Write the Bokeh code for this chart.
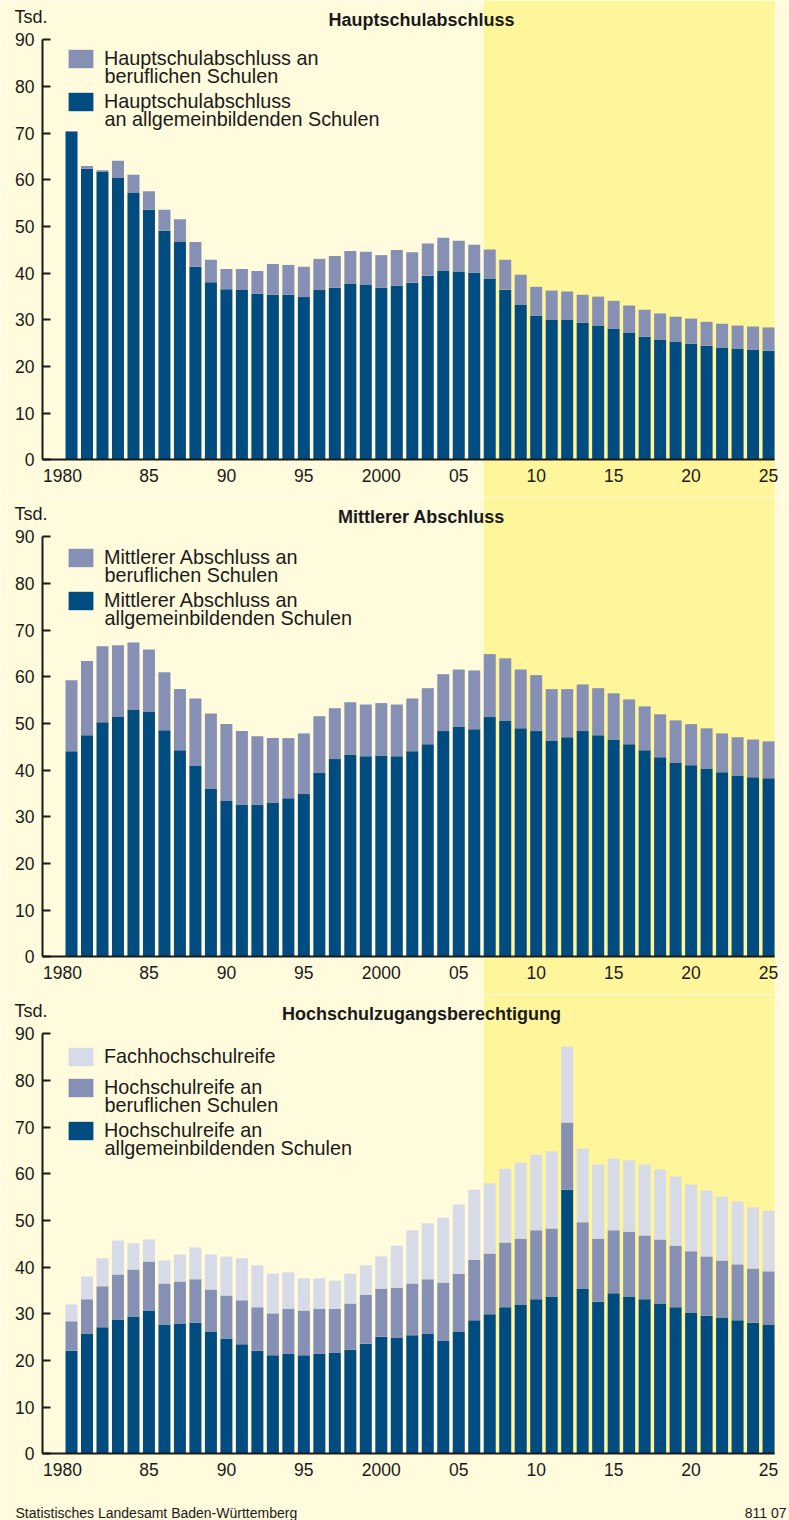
from bokeh.plotting import figure
from bokeh.models import (ColumnDataSource, FixedTicker, BoxAnnotation, Label,
                          Legend, LegendItem, Range1d)
from bokeh.layouts import column
from bokeh.embed import file_html
from bokeh.resources import INLINE

# ---------------- data (Tsd.) ----------------
years = list(range(1980, 2026))

haupt_allg = [70.3, 62.4, 61.7, 60.4, 57.2, 53.6, 49.1, 46.7, 41.4, 38.1,
              36.6, 36.4, 35.6, 35.4, 35.4, 34.9, 36.4, 36.9, 37.7, 37.5,
              36.9, 37.3, 38.0, 39.5, 40.6, 40.4, 40.1, 38.9, 36.5, 33.3,
              30.9, 30.1, 30.1, 29.4, 28.8, 28.1, 27.3, 26.4, 25.8, 25.4,
              24.9, 24.5, 24.1, 23.9, 23.6, 23.4]
haupt_beruf = [0.2, 0.6, 0.4, 3.7, 3.9, 4.0, 4.5, 4.9, 5.3, 4.8,
               4.3, 4.5, 4.9, 6.6, 6.4, 6.5, 6.7, 6.8, 7.1, 7.1,
               7.0, 7.7, 6.5, 6.9, 7.0, 6.6, 6.0, 6.2, 6.4, 6.4,
               6.2, 6.2, 6.0, 6.0, 6.2, 6.0, 5.8, 5.8, 5.6, 5.3,
               5.4, 5.1, 5.1, 4.9, 5.0, 5.0]

mittl_allg = [44.1, 47.5, 50.3, 51.4, 52.9, 52.6, 48.6, 44.3, 40.9, 36.1,
              33.4, 32.7, 32.7, 33.1, 34.0, 34.9, 39.4, 42.4, 43.4, 43.0,
              43.2, 43.0, 44.1, 45.6, 48.4, 49.4, 48.8, 51.4, 50.7, 49.0,
              48.4, 46.4, 47.1, 48.4, 47.5, 46.6, 45.6, 44.3, 42.8, 41.7,
              41.1, 40.4, 39.6, 38.9, 38.5, 38.3]
mittl_beruf = [15.2, 15.9, 16.3, 15.4, 14.5, 13.3, 12.4, 13.1, 14.5, 16.1,
               16.5, 15.7, 14.6, 13.8, 12.9, 13.0, 12.2, 10.9, 11.2, 11.1,
               11.2, 11.1, 11.3, 12.0, 12.2, 12.2, 12.6, 13.5, 13.3, 12.6,
               12.0, 11.0, 10.3, 10.0, 10.1, 9.9, 9.6, 9.4, 9.2, 9.0,
               8.8, 8.6, 8.3, 8.2, 8.1, 7.9]

hr_allg = [22.1, 25.8, 27.1, 28.8, 29.4, 30.7, 27.7, 27.9, 28.1, 26.2,
           24.7, 23.5, 22.1, 21.1, 21.4, 21.1, 21.4, 21.6, 22.3, 23.6,
           25.1, 24.9, 25.4, 25.8, 24.3, 26.2, 28.6, 29.9, 31.4, 32.0,
           33.1, 33.7, 56.6, 35.4, 32.6, 34.4, 33.7, 33.1, 32.2, 31.4,
           30.3, 29.6, 29.2, 28.6, 28.1, 27.7]
hr_beruf = [6.3, 7.3, 8.8, 9.6, 10.1, 10.5, 8.8, 9.0, 9.3, 9.0,
            9.2, 9.4, 9.3, 9.0, 9.7, 9.6, 9.7, 9.5, 9.9, 10.5,
            10.3, 10.7, 11.1, 11.6, 12.4, 12.4, 13.0, 13.0, 13.9, 14.1,
            14.8, 14.6, 14.4, 14.2, 13.5, 13.5, 13.9, 13.7, 13.7, 13.2,
            13.1, 12.7, 12.2, 12.0, 11.6, 11.4]
fhr = [3.6, 4.9, 6.0, 7.3, 5.6, 4.7, 4.9, 5.8, 6.8, 7.5,
       8.4, 9.0, 9.0, 8.5, 7.8, 6.9, 6.5, 6.0, 6.4, 6.3,
       6.9, 9.0, 11.4, 12.0, 13.9, 14.8, 15.0, 15.0, 15.8, 16.3,
       16.2, 16.5, 16.3, 15.8, 15.9, 15.4, 15.3, 15.2, 15.0, 14.8,
       14.3, 14.1, 13.7, 13.5, 13.1, 13.0]

forecast_years = (2007, 2025)
x_tick_values = [1979.42, 1985, 1990, 1995, 2000, 2005, 2010, 2015, 2020, 2025]
x_tick_labels = ["1980", "85", "90", "95", "2000", "05", "10", "15", "20", "25"]
y_ticks = [0, 10, 20, 30, 40, 50, 60, 70, 80, 90]

# ---------------- style ----------------
DARK = "#004B80"
MED = "#8590B4"
LIGHT = "#D7DAE7"
BG = "#FFFBDC"
BAND = "#FFF59B"
INK = "#1A1A1A"
FONT = "Liberation Sans"
LEG_SIZE = "19.8px"
BAR_W = 0.775
X0, X1 = 1975.416, 2026.352
Y_AXIS_AT = 1978.128
WIDTH = 789


def make_panel(title, stackers, data, colors, labels, height, y_range, legend_tops,
               band_bottom=None, footer=False):
    src = ColumnDataSource(dict(year=years, **dict(zip(stackers, data))))
    p = figure(width=WIDTH, height=height, x_range=Range1d(X0, X1),
               y_range=Range1d(*y_range), output_backend="svg",
               toolbar_location=None, min_border=0, min_border_left=0,
               min_border_right=0, min_border_top=0, min_border_bottom=0,
               background_fill_color=BG, border_fill_color=BG,
               outline_line_color=None)
    p.grid.visible = False

    band = BoxAnnotation(left=forecast_years[0] - BAR_W / 2,
                         right=forecast_years[1] + BAR_W / 2,
                         fill_color=BAND, fill_alpha=1, line_color=None, level="underlay")
    if band_bottom is not None:
        band.bottom = band_bottom
    p.add_layout(band)

    rs = p.vbar_stack(stackers, x="year", width=BAR_W, color=colors, source=src,
                      line_color=None)

    # x axis drawn at y = 0
    xa = p.xaxis[0]
    xa.fixed_location = 0
    xa.bounds = (Y_AXIS_AT, forecast_years[1] + BAR_W / 2)
    xa.ticker = FixedTicker(ticks=x_tick_values)
    xa.major_label_overrides = dict(zip(x_tick_values, x_tick_labels))
    xa.major_tick_in = 0
    xa.major_tick_out = 0
    xa.minor_tick_line_color = None
    xa.axis_line_width = 2
    xa.axis_line_color = INK
    xa.major_label_standoff = 9
    xa.major_label_text_font = FONT
    xa.major_label_text_font_size = "17.5px"
    xa.major_label_text_color = INK

    ya = p.yaxis[0]
    ya.fixed_location = Y_AXIS_AT
    ya.bounds = (0, 90)
    ya.ticker = FixedTicker(ticks=y_ticks)
    ya.major_tick_in = 8
    ya.major_tick_out = 0
    ya.major_tick_line_width = 2
    ya.major_tick_line_color = INK
    ya.minor_tick_line_color = None
    ya.axis_line_width = 2
    ya.axis_line_color = INK
    ya.major_label_standoff = 8
    ya.major_label_text_font = FONT
    ya.major_label_text_font_size = "17.5px"
    ya.major_label_text_color = INK

    # legend: one entry per series, top entry = top segment of the stack
    for lab, r, top in zip(labels[::-1], rs[::-1], legend_tops):
        lines = lab.split("\n")
        leg = Legend(items=[LegendItem(label=lines[0], renderers=[r])],
                     location=(65, height - top - 23), padding=0, margin=0,
                     spacing=0, glyph_width=31, glyph_height=23, label_height=23,
                     label_standoff=8, label_text_font=FONT,
                     label_text_font_size=LEG_SIZE, label_text_color=INK,
                     border_line_color=None, background_fill_alpha=0)
        p.add_layout(leg)
        if len(lines) > 1:
            p.add_layout(Label(x=104, x_units="screen", y=height - top - 28,
                               y_units="screen", text=lines[1], text_font=FONT,
                               text_font_size=LEG_SIZE, text_color=INK,
                               text_baseline="alphabetic"))

    p.add_layout(Label(x=14, x_units="screen", y=94.9, text="Tsd.",
                       text_font=FONT, text_font_size="18px", text_color=INK,
                       text_baseline="alphabetic"))
    p.add_layout(Label(x=421, x_units="screen", y=94.3, text=title,
                       text_font=FONT, text_font_size="18px", text_font_style="bold",
                       text_color=INK, text_align="center", text_baseline="alphabetic"))
    if footer:
        p.add_layout(Label(x=15, x_units="screen", y=8, y_units="screen",
                           text="Statistisches Landesamt Baden-Württemberg",
                           text_font=FONT, text_font_size="14px", text_color=INK,
                           text_baseline="alphabetic"))
        p.add_layout(Label(x=786, x_units="screen", y=8, y_units="screen",
                           text="811 07", text_font=FONT, text_font_size="14px",
                           text_color=INK, text_align="right", text_baseline="alphabetic"))
    return p


p1 = make_panel("Hauptschulabschluss", ["allg", "beruf"], [haupt_allg, haupt_beruf],
                [DARK, MED],
                ["Hauptschulabschluss\nan allgemeinbildenden Schulen",
                 "Hauptschulabschluss an\nberuflichen Schulen"],
                497, (-8.04, 98.46), [47, 90])
p2 = make_panel("Mittlerer Abschluss", ["allg", "beruf"], [mittl_allg, mittl_beruf],
                [DARK, MED],
                ["Mittlerer Abschluss an\nallgemeinbildenden Schulen",
                 "Mittlerer Abschluss an\nberuflichen Schulen"],
                497, (-8.04, 98.46), [49, 92])
p3 = make_panel("Hochschulzugangsberechtigung", ["allg", "beruf", "fh"],
                [hr_allg, hr_beruf, fhr], [DARK, MED, LIGHT],
                ["Hochschulreife an\nallgemeinbildenden Schulen",
                 "Hochschulreife an\nberuflichen Schulen",
                 "Fachhochschulreife"],
                526, (-14.29, 98.42), [51, 82, 125], band_bottom=0, footer=True)

layout = column(p1, p2, p3, spacing=0)
open("out.html", "w").write(file_html(layout, INLINE))
